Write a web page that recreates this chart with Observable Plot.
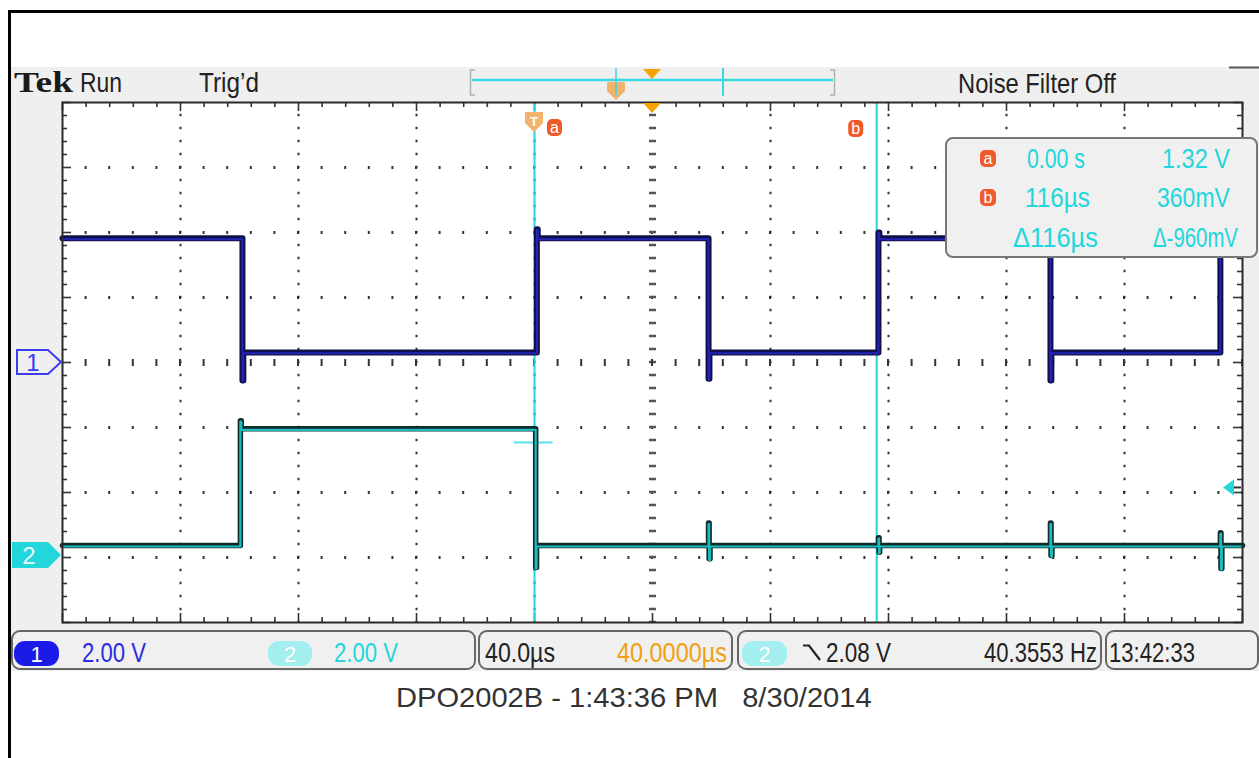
<!DOCTYPE html>
<html><head><meta charset="utf-8">
<script src="https://cdn.jsdelivr.net/npm/d3@7"></script>
<script src="https://cdn.jsdelivr.net/npm/@observablehq/plot@0.6"></script>
<style>
html,body{margin:0;padding:0;background:#fff;overflow:hidden}
#chart{position:absolute;left:0;top:0;width:1259px;height:758px}
</style></head><body><div id="chart"></div>
<script>
// ---- scope settings ----
const timeDomain = [-160, 240];      // µs, 10 div × 40 µs, trigger at 0, delay 40 µs
const divDomain = [-4, 4];           // vertical divisions
const voltsPerDiv = 2;
const ch1Pos = 0;                    // channel offsets (div)
const ch2Pos = -2.97;
const triggerLevel = 2.08;           // V on ch2
const delayT = 40;

// ---- channel 1 (edge times µs, levels V) ----
const ch1T = [-160, -99.0, -98.7, 0.8, 1.1, 59.0, 59.3, 116.6, 116.9, 174.9, 175.2, 232.5, 232.8, 240];
const ch1V = [3.82, -0.55, 0.31, 4.1, 3.82, -0.5, 0.31, 4.0, 3.82, -0.55, 0.31, 4.0, 3.82, 3.82];

// ---- channel 2 ----
const ch2T = [-160, -99.7, -99.4, 0.4, 0.7, 59.0, 59.2, 59.5, 116.6, 116.8, 117.0, 174.9, 175.1, 175.4, 232.5, 232.7, 233.0, 240];
const ch2V = [0.31, 4.15, 3.9, -0.37, 0.31, 1.0, -0.1, 0.31, 0.55, 0.1, 0.31, 1.0, 0.0, 0.31, 0.7, -0.4, 0.31, 0.31];

// ---- cursors ----
const cursorT = [0, 116];
const cursorNames = ["a", "b"];
const cursorHairDiv = -1.23;
const readTimes = ["0.00 s", "116µs", "Δ116µs"];
const readVolts = ["1.32 V", "360mV", "Δ-960mV"];

// ---- status texts ----
const chScale = ["2.00 V", "2.00 V"];
const timeBase = "40.0µs";
const delayText = "40.0000µs";
const trigText = "2.08 V";
const freqText = "40.3553 Hz";
const clockText = "13:42:33";
const caption = "DPO2002B - 1:43:36 PM   8/30/2014";

const W = 1259, H = 758;
const ch1 = ch1T.map((t, i) => ({t, y: ch1Pos + ch1V[i] / voltsPerDiv}));
const ch2 = ch2T.map((t, i) => ({t, y: ch2Pos + ch2V[i] / voltsPerDiv}));
const majorX = d3.range(timeDomain[0] + 40, timeDomain[1], 40).filter(t => t !== delayT);
const majorY = d3.range(-3, 4).filter(v => v !== 0);
const minorX = d3.range(0, 51).map(i => timeDomain[0] + i * 8);
const minorY = d3.range(0, 41).map(i => divDomain[0] + i * 0.2);
const pxX = 1180 / 400, pxY = 520 / 8;

const plot = Plot.plot({
  width: W, height: H,
  marginLeft: 62, marginRight: 17, marginTop: 102, marginBottom: 136,
  x: {domain: timeDomain, axis: null},
  y: {domain: divDomain, axis: null},
  style: {background: "none", overflow: "visible"},
  marks: [
    Plot.frame({fill: "white", stroke: null}),
    Plot.ruleX(majorX, {stroke: "#333", strokeWidth: 2, strokeDasharray: "2.6 10.4", strokeDashoffset: 1.3}),
    Plot.ruleY(majorY, {stroke: "#333", strokeWidth: 3, strokeDasharray: "2 21.6", strokeDashoffset: 1}),
    Plot.ruleX([delayT], {stroke: "#555", strokeWidth: 7, strokeDasharray: "2.6 10.4", strokeDashoffset: 1.3}),
    Plot.ruleY([0], {stroke: "#333", strokeWidth: 7, strokeDasharray: "2 21.6", strokeDashoffset: 1}),
    // border ticks
    Plot.ruleX(minorX, {y1: divDomain[1], y2: (d, i) => divDomain[1] - (i % 5 === 0 ? 9 : 5) / pxY, stroke: "#333", strokeWidth: 1.6}),
    Plot.ruleX(minorX, {y1: divDomain[0], y2: (d, i) => divDomain[0] + (i % 5 === 0 ? 9 : 5) / pxY, stroke: "#333", strokeWidth: 1.6}),
    Plot.ruleY(minorY, {x1: timeDomain[0], x2: (d, i) => timeDomain[0] + (i % 5 === 0 ? 9 : 5) / pxX, stroke: "#333", strokeWidth: 1.6}),
    Plot.ruleY(minorY, {x1: timeDomain[1], x2: (d, i) => timeDomain[1] - (i % 5 === 0 ? 9 : 5) / pxX, stroke: "#333", strokeWidth: 1.6}),
    // cursors
    Plot.ruleX(cursorT, {stroke: "#25d5dd", strokeWidth: 2}),
    Plot.ruleY([cursorHairDiv], {x1: cursorT[0] - 6.8, x2: cursorT[0] + 6.3, stroke: "#55e2e8", strokeWidth: 2}),
    // traces
    Plot.line(ch2, {x: "t", y: "y", curve: "step-after", stroke: "#102c2c", strokeWidth: 5.5}),
    Plot.line(ch2, {x: "t", y: "y", curve: "step-after", stroke: "#1cbcbc", strokeWidth: 2.2, dy: 1}),
    Plot.line(ch1, {x: "t", y: "y", curve: "step-after", stroke: "#101048", strokeWidth: 6}),
    Plot.line(ch1, {x: "t", y: "y", curve: "step-after", stroke: "#2424b8", strokeWidth: 2, dy: 0.8}),
    Plot.frame({stroke: "#2a2a2a", strokeWidth: 2})
  ]
});
document.getElementById("chart").appendChild(plot);

const svg = d3.select(plot);
const X = t => plot.scale("x").apply(t);
const Y = v => plot.scale("y").apply(v);
const NARROW = "'Liberation Sans Narrow','Arial Narrow','Liberation Sans',Arial,sans-serif";
const CY = "#22d6dc", ORANGE = "#f5a300", BADGE = "#f05a28";

// text squeezed horizontally to a target width with a transform
function txt(g, x, y, s, o = {}) {
  const gg = g.append("g").attr("transform", `translate(${x},${y})`);
  const t = gg.append("text").attr("x", 0).attr("y", 0).text(s)
    .attr("font-family", o.family || NARROW).attr("font-size", o.size || 27)
    .attr("fill", o.fill || "#222").attr("text-anchor", o.anchor || "start");
  if (o.weight) t.attr("font-weight", o.weight);
  if (o.pre) t.style("white-space", "pre");
  if (o.w) {
    const len = t.node().getComputedTextLength();
    if (len > 0) gg.attr("transform", `translate(${x},${y}) scale(${o.w / len},1)`);
  }
  return t;
}
function rrect(g, x, y, w, h, r, fill, stroke, sw) {
  return g.append("rect").attr("x", x).attr("y", y).attr("width", w).attr("height", h)
    .attr("rx", r).attr("fill", fill).attr("stroke", stroke || "none").attr("stroke-width", sw || 0);
}
function path(g, d, fill, stroke, sw) {
  return g.append("path").attr("d", d).attr("fill", fill || "none")
    .attr("stroke", stroke || "none").attr("stroke-width", sw || 0);
}

// background screen
const bg = svg.insert("g", ":first-child");
bg.append("rect").attr("x", 10).attr("y", 67).attr("width", 1249).attr("height", 604).attr("fill", "#efefef");

const fg = svg.append("g");
// outer black frame
path(fg, "M9.5,758 V11.5 H1259", "none", "#000", 3);
path(fg, "M1229,67.5 H1259", "none", "#555", 2);

// top status bar
txt(fg, 14, 92, "Tek", {family: "'Liberation Serif','DejaVu Serif',serif", weight: "bold", size: 29, w: 59, fill: "#1a1a1a"});
txt(fg, 80, 92, "Run", {w: 42});
txt(fg, 199, 92, "Trig’d", {w: 60});
txt(fg, 958, 93, "Noise Filter Off", {w: 158});
// record view bar
path(fg, "M475,70 H470.5 V95 H475", "none", "#b0b0b0", 1.5);
path(fg, "M830,70 H834.5 V95 H830", "none", "#b0b0b0", 1.5);
path(fg, "M472,80 H833", "none", "#3ad8e0", 2.5);
path(fg, "M723,68 V96", "none", "#3ad8e0", 2);
path(fg, "M607,82 H625 V91 L616,100 L607,91 Z", "#f2b36e");
path(fg, "M616,68 V96", "none", "#3ad8e0", 1.5);
path(fg, "M643,69 H661 L652,79 Z", ORANGE);

// graticule top markers
const xd = X(delayT);
path(fg, `M${xd - 9},103 H${xd + 9} L${xd},113 Z`, ORANGE);
const xa = X(cursorT[0]), xb = X(cursorT[1]);
path(fg, `M${xa - 9},112 H${xa + 9} V123 L${xa},132 L${xa - 9},123 Z`, "#f2b36e");
txt(fg, xa, 126, "T", {family: "'Liberation Sans',sans-serif", size: 13, fill: "#fff", anchor: "middle", weight: "bold"});
rrect(fg, xa + 13, 119, 15, 17, 5, BADGE);
txt(fg, xa + 20.5, 133, cursorNames[0], {family: "'Liberation Sans',sans-serif", size: 16, fill: "#fff", anchor: "middle"});
rrect(fg, xb - 28, 120, 15, 17, 5, BADGE);
txt(fg, xb - 20.5, 134, cursorNames[1], {family: "'Liberation Sans',sans-serif", size: 16, fill: "#fff", anchor: "middle"});

// measurement readout box
rrect(fg, 946, 138, 311, 119, 7, "#f0f0f0", "#777", 2);
rrect(fg, 980, 150, 16, 17, 5, BADGE);
txt(fg, 988, 164, cursorNames[0], {family: "'Liberation Sans',sans-serif", size: 16, fill: "#fff", anchor: "middle"});
rrect(fg, 980, 189, 16, 17, 5, BADGE);
txt(fg, 988, 203, cursorNames[1], {family: "'Liberation Sans',sans-serif", size: 16, fill: "#fff", anchor: "middle"});
txt(fg, 1027, 168, readTimes[0], {fill: CY, w: 58});
txt(fg, 1162, 168, readVolts[0], {fill: CY, w: 68});
txt(fg, 1025, 207, readTimes[1], {fill: CY, w: 65});
txt(fg, 1157, 207, readVolts[1], {fill: CY, w: 73});
txt(fg, 1013, 247, readTimes[2], {fill: CY, w: 85});
txt(fg, 1153, 247, readVolts[2], {fill: CY, w: 85});

// channel ground markers
const y1 = Y(ch1Pos), y2 = Y(ch2Pos);
path(fg, `M17,${y1 - 12} H48 L61,${y1} L48,${y1 + 12} H17 Z`, "none", "#3b3bf0", 2);
txt(fg, 33, y1 + 9, "1", {family: "'Liberation Sans',sans-serif", size: 24, fill: "#3b3bf0", anchor: "middle"});
path(fg, `M12,${y2 - 13} H48 L61,${y2} L48,${y2 + 13} H12 Z`, CY);
txt(fg, 29, y2 + 9, "2", {family: "'Liberation Sans',sans-serif", size: 24, fill: "#e8ffff", anchor: "middle"});

// trigger level arrow
const yt = Y(ch2Pos + triggerLevel / voltsPerDiv);
path(fg, `M1223,${yt} L1234,${yt - 8} L1234,${yt + 8} Z`, CY);
path(fg, `M1234,${yt} H1241`, "none", "#333", 2);

// bottom status boxes
rrect(fg, 12, 631, 463, 38, 8, "#f0f0f0", "#666", 2);
rrect(fg, 479, 631, 253, 38, 8, "#f0f0f0", "#666", 2);
rrect(fg, 738, 631, 363, 38, 8, "#f0f0f0", "#666", 2);
rrect(fg, 1106, 631, 152, 38, 8, "#f0f0f0", "#666", 2);
rrect(fg, 14, 641, 45, 25, 11, "#1b1be8");
txt(fg, 36.5, 662, "1", {family: "'Liberation Sans',sans-serif", size: 22, fill: "#fff", anchor: "middle"});
txt(fg, 82, 662, chScale[0], {fill: "#2a2ae0", w: 64, size: 28});
rrect(fg, 268, 641, 44, 25, 11, "#a3eff0");
txt(fg, 290, 662, "2", {family: "'Liberation Sans',sans-serif", size: 22, fill: "#fff", anchor: "middle"});
txt(fg, 334, 662, chScale[1], {fill: CY, w: 64, size: 28});
txt(fg, 485, 662, timeBase, {fill: "#222", w: 70, size: 28});
txt(fg, 617, 662, delayText, {fill: "#f0a010", w: 110, size: 28});
rrect(fg, 742, 641, 45, 25, 11, "#a3eff0");
txt(fg, 764.5, 662, "2", {family: "'Liberation Sans',sans-serif", size: 22, fill: "#fff", anchor: "middle"});
path(fg, "M803,645.5 H809 L820,660", "none", "#222", 2.2);
txt(fg, 826, 662, trigText, {fill: "#222", w: 65, size: 28});
txt(fg, 984, 662, freqText, {fill: "#222", w: 113, size: 28});
txt(fg, 1109, 662, clockText, {fill: "#222", w: 86, size: 28});

// caption
txt(fg, 396, 707, caption, {family: "'Liberation Sans',Arial,sans-serif", size: 28, fill: "#333", w: 476, pre: true});
</script></body></html>
